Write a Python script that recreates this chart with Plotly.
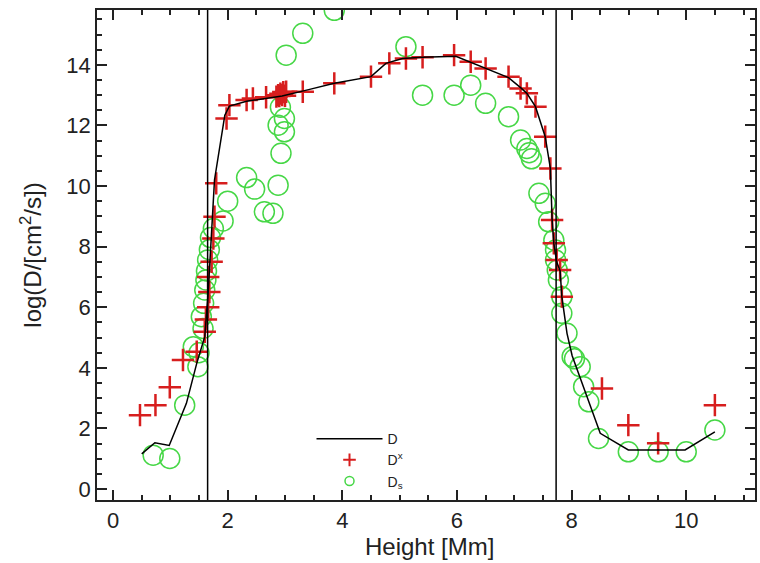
import plotly.graph_objects as go

# Boundaries (vertical lines), Mm
boundaries = [1.65, 7.73]

# D (black line)
d_height = [0.50, 0.73, 0.98, 1.28, 1.46, 1.60, 1.66, 1.72, 1.77, 1.95, 2.03, 2.33, 2.67, 2.95,
            3.43, 3.86, 4.50, 4.76, 5.05, 5.40, 5.98, 6.24, 6.50, 6.90, 7.11, 7.22, 7.37, 7.54,
            7.63, 7.66, 7.69, 7.74, 7.80, 7.83, 7.92, 8.01, 8.50, 8.99, 9.50, 9.98, 10.50]
d_logD = [1.16, 1.53, 1.44, 2.83, 4.15, 5.03, 6.50, 8.30, 10.20, 12.34, 12.64, 12.80, 12.90, 12.97,
          13.19, 13.39, 13.61, 14.05, 14.21, 14.25, 14.28, 14.08, 13.88, 13.58, 13.25, 13.06, 12.62, 11.63,
          10.58, 8.90, 8.10, 7.50, 7.20, 6.35, 5.14, 4.40, 1.84, 1.29, 1.29, 1.29, 1.89]

# D^x (red crosses)
dx_height = [0.47, 0.74, 0.99, 1.22, 1.46, 1.60, 1.62, 1.66, 1.68, 1.66, 1.72, 1.75, 1.77, 1.80,
             1.98, 2.03, 2.33, 2.44, 2.67, 2.85, 2.88, 2.90, 2.92, 2.95, 2.97, 3.00, 3.02, 3.31,
             3.86, 4.50, 4.82, 5.11, 5.40, 5.95, 6.24, 6.50, 6.90, 7.11, 7.22, 7.37, 7.54, 7.63,
             7.66, 7.69, 7.74, 7.80, 7.83, 8.53, 8.99, 9.51, 10.50]
dx_logD = [2.44, 2.77, 3.36, 4.26, 4.53, 5.19, 5.60, 6.00, 6.50, 7.00, 7.50, 8.27, 8.99, 10.09,
           12.23, 12.67, 12.84, 12.89, 12.93, 12.95, 13.00, 12.97, 13.05, 13.00, 13.10, 12.98, 13.11, 13.11,
           13.39, 13.61, 14.05, 14.21, 14.25, 14.32, 14.10, 13.88, 13.61, 13.22, 13.06, 12.62, 11.63, 10.58,
           8.88, 8.11, 7.56, 7.23, 6.35, 3.32, 2.11, 1.51, 2.77]

# D_s (green circles)
ds_height = [0.70, 0.99, 1.25, 1.40, 1.48, 1.50, 1.54, 1.57, 1.58, 1.60, 1.62, 1.63, 1.65, 1.68,
             1.70, 1.75, 1.92, 2.00, 2.33, 2.47, 2.64, 2.79, 2.88, 2.93, 2.99, 2.88, 2.99, 2.92,
             3.02, 3.31, 3.86, 5.11, 5.40, 5.95, 6.24, 6.50, 6.90, 7.11, 7.22, 7.26, 7.30, 7.43,
             7.54, 7.60, 7.69, 7.72, 7.72, 7.75, 7.77, 7.83, 7.83, 7.92, 8.01, 8.05, 8.15, 8.21,
             8.30, 8.47, 8.99, 9.51, 10.00, 10.50]
ds_logD = [1.12, 1.01, 2.77, 4.70, 4.04, 4.50, 5.69, 5.30, 6.13, 6.57, 6.90, 7.20, 7.56, 7.90,
           8.30, 8.60, 8.85, 9.50, 10.28, 9.90, 9.15, 9.10, 10.03, 11.08, 11.79, 12.01, 12.23, 12.60,
           14.32, 15.04, 15.80, 14.60, 13.00, 13.00, 13.33, 12.73, 12.29, 11.52, 11.24, 11.10, 10.90, 9.76,
           9.43, 8.82, 8.22, 7.89, 7.56, 7.23, 6.90, 6.35, 5.80, 5.14, 4.37, 4.30, 4.04, 3.38,
           2.88, 1.67, 1.23, 1.23, 1.23, 1.95]

x_ticks = [0, 2, 4, 6, 8, 10]
y_ticks = [0, 2, 4, 6, 8, 10, 12, 14]
x_title = "Height [Mm]"
y_title = "log(D/[cm<sup>2</sup>/s])"

FONT = "Liberation Sans, Arial, Helvetica, sans-serif"
INK = "#222222"
GREEN = "rgb(70,215,70)"
RED = "rgb(215,30,30)"

fig = go.Figure()
# data traces (legend entries drawn by the small legend-only traces below)
fig.add_trace(go.Scatter(
    x=ds_height, y=ds_logD, mode="markers", showlegend=False,
    marker=dict(symbol="circle-open", size=20, color=GREEN, line=dict(width=1.5)),
))
fig.add_trace(go.Scatter(
    x=dx_height, y=dx_logD, mode="markers", showlegend=False,
    marker=dict(symbol="cross-thin-open", size=16, color=RED, line=dict(width=2.5, color=RED)),
))
fig.add_trace(go.Scatter(
    x=d_height, y=d_logD, mode="lines", showlegend=False,
    line=dict(color="black", width=1.5),
))

# legend entries (IDL-style small symbols)
fig.add_trace(go.Scatter(x=[None], y=[None], mode="markers", name="D<sub>s</sub>",
                         marker=dict(symbol="circle-open", size=9, color=GREEN, line=dict(width=1.5))))
fig.add_trace(go.Scatter(x=[None], y=[None], mode="markers", name="D<sup>x</sup>",
                         marker=dict(symbol="cross-thin-open", size=9, color=RED, line=dict(width=2, color=RED))))
fig.add_trace(go.Scatter(x=[None], y=[None], mode="lines", name="D",
                         line=dict(color="black", width=1.5)))

for b in boundaries:
    fig.add_vline(x=b, line=dict(color="black", width=1.5))

axis_common = dict(
    showline=True, linecolor=INK, linewidth=1.5, mirror="ticks",
    ticks="inside", ticklen=10, tickwidth=1.5, tickcolor=INK,
    showgrid=False, zeroline=False,
    tickfont=dict(family=FONT, size=22, color=INK),
    minor=dict(ticks="inside", ticklen=5, tickwidth=1.5, tickcolor=INK, dtick=0.5, showgrid=False),
)

fig.update_xaxes(
    range=[-0.28, 11.2], tickmode="array", tickvals=x_ticks, ticktext=[str(v) for v in x_ticks],
    **axis_common,
)
fig.update_yaxes(
    range=[-0.36, 15.81], tickmode="array", tickvals=y_ticks, ticktext=[str(v) for v in y_ticks],
    title=dict(text=y_title, font=dict(family=FONT, size=24, color=INK), standoff=18),
    **axis_common,
)

fig.add_annotation(
    text=x_title, xref="paper", yref="paper", x=0.505, y=-0.094,
    xanchor="center", yanchor="middle", showarrow=False,
    font=dict(family=FONT, size=24, color=INK),
)

fig.update_layout(
    width=760, height=563,
    margin=dict(l=97, r=3, t=10, b=63),
    paper_bgcolor="white", plot_bgcolor="white",
    font=dict(family=FONT, color=INK),
    showlegend=True,
    legend=dict(
        x=0.326, y=0.157, xanchor="left", yanchor="top",
        traceorder="reversed", bgcolor="rgba(0,0,0,0)",
        font=dict(family=FONT, size=14, color=INK),
        itemwidth=66, tracegroupgap=0,
    ),
)

fig.write_html("out.html", config={"displayModeBar": False},
               post_script="document.body.style.margin='0';")
